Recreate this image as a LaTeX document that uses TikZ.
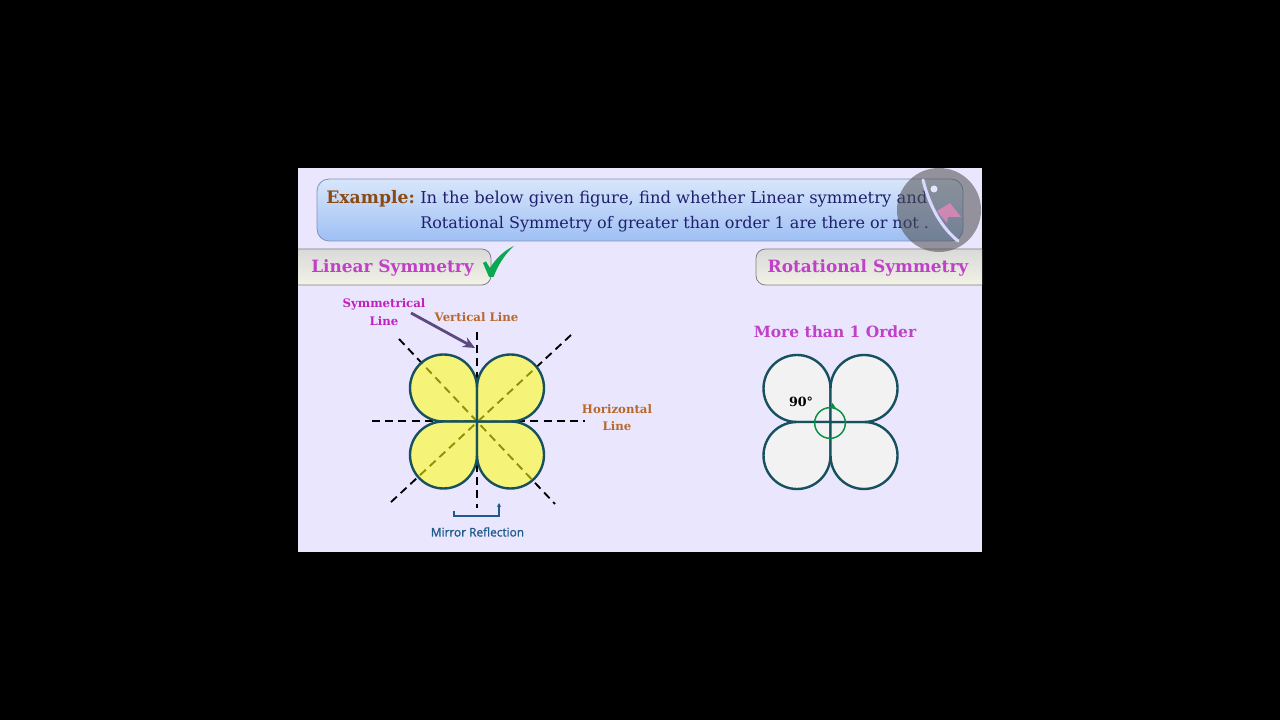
\documentclass[tikz,border=0pt]{standalone}
\usepackage{fontspec}
\setmainfont{DejaVu Serif}
\newfontfamily\mirrorfont{Open Sans}[FakeBold=1.2]
\usetikzlibrary{arrows.meta}
\definecolor{slidebg}{HTML}{EAE6FD}
\definecolor{petalline}{HTML}{17505F}
\definecolor{headpink}{HTML}{C040C8}
\definecolor{symmagenta}{HTML}{C020C0}
\definecolor{linebrown}{HTML}{B8682C}
\definecolor{examplebrown}{HTML}{8B4A12}
\definecolor{boxtop}{HTML}{D8E6FB}
\definecolor{boxbottom}{HTML}{9EBFF4}
\definecolor{boxline}{HTML}{7F93B8}
\definecolor{bannertop}{HTML}{D9D9D9}
\definecolor{bannerbottom}{HTML}{F2F2E6}
\definecolor{tickgreen}{HTML}{0AA850}
\definecolor{mirrorblue}{HTML}{1F5A8C}
\definecolor{arrowviolet}{HTML}{5B4A7E}
\definecolor{textnavy}{HTML}{1F1F6B}
\definecolor{logopink}{HTML}{D888B8}
\tikzset{
    banner/.style={draw=gray, line width=0.6pt, rounded corners=7pt, top color=bannertop, bottom color=bannerbottom, inner sep=0pt},
    headtext/.style={font=\bfseries\fontsize{12.7}{15}\selectfont, text=headpink},
    smalltext/.style={font=\bfseries\fontsize{8.8}{13}\selectfont, align=center},
    questiontext/.style={anchor=west, inner sep=0pt, text=textnavy},
    petal/.style={line width=1.8pt, draw=petalline, line join=round},
    dashline/.style={line width=1.4pt, dash pattern=on 6pt off 3.9pt},
}
\begin{document}
\begin{tikzpicture}[x=0.75pt, y=0.75pt]
    % page and slide
    \fill[black] (0,0) rectangle (1280,720);
    \useasboundingbox (0,0) rectangle (1280,720);
    \fill[slidebg] (298,168) rectangle (982,552);

    % banners
    \begin{scope}
        \clip (298,168) rectangle (982,552);
        \node[banner, draw=boxline, top color=boxtop, bottom color=boxbottom, minimum width=484.5pt, minimum height=46.5pt, rounded corners=9pt] (examplebox) at (640,510) {};
        \node[banner, minimum width=168pt, minimum height=27pt] (linearbox) at (379,453) {};
        \node[banner, minimum width=198pt, minimum height=27pt] (rotationbox) at (888,453) {};
    \end{scope}

    % texts
    \node[anchor=west, font=\bfseries\fontsize{12.9}{15}\selectfont, text=examplebrown] (example) at (321.6,521) {Example:};
    \node[questiontext, font=\fontsize{12.27}{15}\selectfont] (questionA) at (420,521) {In the below given figure, find whether Linear symmetry and};
    \node[questiontext, font=\fontsize{12}{15}\selectfont] (questionB) at (420,496) {Rotational Symmetry of greater than order 1 are there or not .};
    \node[headtext] (lineartitle) at (392.5,452) {Linear Symmetry};
    \node[headtext] (rotationtitle) at (868,452) {Rotational Symmetry};
    \node[headtext, font=\bfseries\fontsize{11.6}{14}\selectfont] (ordertitle) at (835,388) {More than 1 Order};
    \node[smalltext, text=symmagenta] (symline) at (384,408) {Symmetrical\\Line};
    \node[smalltext, text=linebrown] (vertline) at (476.5,403) {Vertical Line};
    \node[smalltext, text=linebrown] (horline) at (617,302.5) {Horizontal\\Line};
    \node[font=\mirrorfont\fontsize{8.9}{10}\selectfont, text=mirrorblue] (mirror) at (477.5,188) {Mirror Reflection};

    % tick
    \fill[tickgreen] (483,457) -- (486,458.5) -- (490,452) .. controls (496,462) and (505,470) .. (514,474) .. controls (505,466) and (498,455) .. (493.5,443) -- (489,443) -- cycle;

    % dashed lines under the left figure
    \coordinate (centerL) at (477,298.5);
    \coordinate (centerR) at (830.5,298);
    \coordinate (diagA) at (399,381);
    \coordinate (diagB) at (555,216);
    \coordinate (diagC) at (571,385);
    \coordinate (diagD) at (390,217);
    \coordinate (horA) at (372,299);
    \coordinate (horB) at (585,299);
    \coordinate (vertA) at (477,388);
    \coordinate (vertB) at (477,212);
    \draw[dashline] (diagA) -- (diagB);
    \draw[dashline] (diagC) -- (diagD);
    \draw[dashline] (horA) -- (horB);
    \draw[dashline] (vertA) -- (vertB);

    % petals
    \foreach \a in {0,90,180,270} {
        \begin{scope}[shift={(centerL)}, rotate=\a]
            \draw[petal, fill={rgb,255:red,255;green,255;blue,16}, fill opacity=0.56] (0,0) -- (0,33.5) arc[start angle=0, end angle=270, radius=33.5] -- cycle;
        \end{scope}
        \begin{scope}[shift={(centerR)}, rotate=\a]
            \draw[petal, fill=gray!10] (0,0) -- (0,33.5) arc[start angle=0, end angle=270, radius=33.5] -- cycle;
        \end{scope}
    }

    % arrows
    \coordinate (symstart) at (411,407);
    \coordinate (symend) at (475,372);
    \draw[line width=2.1pt, draw=arrowviolet, -{Stealth[length=9pt,width=8pt]}] (symstart) -- (symend);
    \coordinate (mirA) at (454,209);
    \coordinate (mirB) at (454,204);
    \coordinate (mirC) at (499,204);
    \coordinate (mirD) at (499,217);
    \draw[line width=0.8pt, draw=mirrorblue, -{Stealth[length=3pt,width=3pt]}] (mirA) -- (mirB) -- (mirC) -- (mirD);

    % angle mark
    \node[circle, draw=tickgreen!85!black, line width=1.1pt, minimum size=23pt, inner sep=0pt] (anglemark) at (830,297) {};
    \fill[tickgreen!85!black] (830.5,313.5) -- (836.5,311) -- (832.5,317) -- cycle;
    \node[font=\bfseries\fontsize{9.5}{12}\selectfont] (ninety) at (801,318) {90°};

    % logo
    \fill[gray!60!black, opacity=0.55] (939,510) circle (42);
    \fill[logopink, opacity=0.9] (937,509) -- (950,517) -- (961,503) -- (948,503) -- (947,497) -- (940,505) -- cycle;
    \draw[white!85!blue, line width=2.3pt, line cap=round] (923,540) .. controls (930,512) and (942,492) .. (958,479);
    \fill[white!90!blue] (934,531) circle (3.5);
\end{tikzpicture}
\end{document}
